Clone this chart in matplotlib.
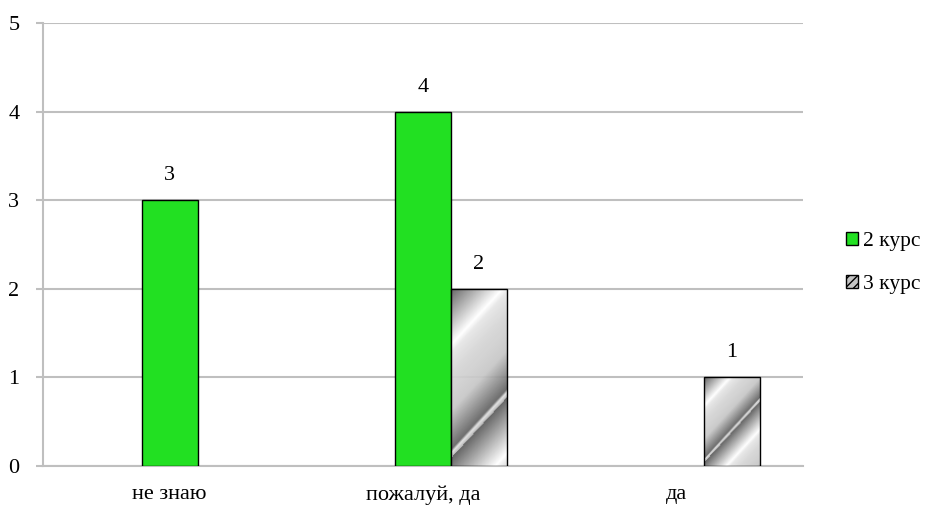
import numpy as np
import matplotlib
matplotlib.use("Agg")
import matplotlib.pyplot as plt
from matplotlib.patches import Patch

# data
categories = ["не знаю", "пожалуй, да", "да"]
series_names = ["2 курс", "3 курс"]
course2 = [3, 4, 0]
course3 = [0, 2, 1]

plt.rcParams["font.family"] = ["Liberation Serif", "DejaVu Serif"]
plt.rcParams["hatch.color"] = "#ffffff"

fig = plt.figure(figsize=(9.28, 5.05), dpi=100)
ax = fig.add_axes([43 / 928, 1 - 466 / 505, 760 / 928, 443 / 505])

x = np.arange(len(categories))
bar_w = 0.22
green = "#22e022"
grid_c = "#bfbfbf"

ax.set_xlim(-0.5, len(categories) - 0.5)
ax.set_ylim(0, 5)
ax.set_yticks(range(6))
ax.set_xticks(x)
ax.set_xticklabels(categories)
ax.yaxis.grid(True, color=grid_c, linewidth=1.5)
ax.set_axisbelow(True)
for s in ["top", "right"]:
    ax.spines[s].set_visible(False)
ax.spines["left"].set_color(grid_c)
ax.spines["left"].set_linewidth(1.5)
ax.spines["bottom"].set_color(grid_c)
ax.spines["bottom"].set_linewidth(1.5)
ax.tick_params(axis="y", length=5, color=grid_c, width=1.5, labelsize=16, pad=12)
ax.tick_params(axis="x", length=0, labelsize=16, pad=14)

# 2 курс - solid green
for xi, v in zip(x, course2):
    if v > 0:
        ax.bar(xi, v, bar_w, color=green, edgecolor="black", linewidth=1, zorder=3)
        ax.text(xi, v + 0.17, str(v), ha="center", va="bottom", fontsize=16)

# 3 курс - diagonal grey gradient fill (scaled to bar height, like the office fill)
px_per_x = 760 / 3
px_per_y = 443 / 5


def stripe(t):
    t = t % 1.0
    pts_t = [0.0, 0.33, 0.38, 0.5, 0.72, 0.95, 0.97, 1.0]
    pts_v = [0.35, 1.0, 0.9, 0.84, 0.78, 0.38, 0.88, 0.7]
    return np.interp(t, pts_t, pts_v)


for xi, v in zip(x, course3):
    if v > 0:
        left = xi + bar_w / 2
        rect = ax.bar(left + bar_w / 2, v, bar_w, facecolor="none",
                      edgecolor="black", linewidth=1, zorder=4)[0]
        w_px = int(bar_w * px_per_x)
        h_px = int(v * px_per_y)
        cols, rows = np.meshgrid(np.arange(w_px), np.arange(h_px))
        img = stripe((rows + 1.1 * cols) / (0.95 * h_px))
        im = ax.imshow(img, cmap="gray", vmin=0, vmax=1, aspect="auto",
                       extent=[left, left + bar_w, 0, v], zorder=3, alpha=0.92,
                       interpolation="bilinear")
        im.set_clip_path(rect)
        ax.text(left + bar_w / 2, v + 0.17, str(v), ha="center", va="bottom", fontsize=16)

ax.set_xlim(-0.5, len(categories) - 0.5)
ax.set_ylim(0, 5)

handles = [Patch(facecolor=green, edgecolor="black", label=series_names[0]),
           Patch(facecolor="#c4c4c4", edgecolor="black", hatch="////", label=series_names[1])]
fig.legend(handles=handles, loc="center left", bbox_to_anchor=(827 / 928, 1 - 263 / 505),
           frameon=False, fontsize=15.5, handlelength=0.55, handleheight=0.55,
           handletextpad=0.2, labelspacing=1.1)

fig.savefig("out.png", dpi=100)
